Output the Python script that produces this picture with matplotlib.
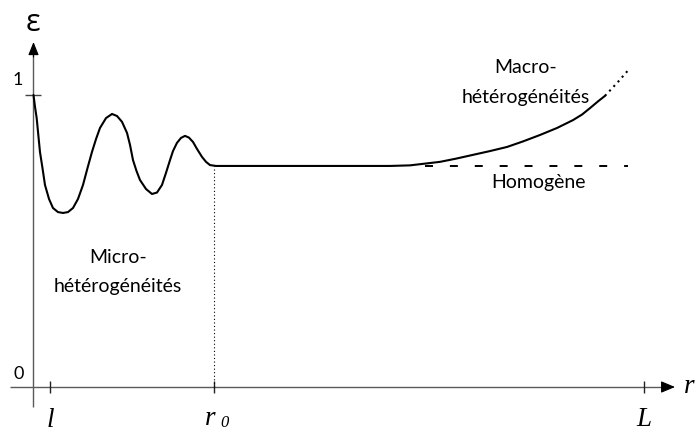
import matplotlib
matplotlib.use("Agg")
import matplotlib.pyplot as plt

# ---- data (r in arbitrary units, L = 10 ; epsilon normalised, 1 at r = 0) ----
r_curve = [0.000, 0.025, 0.052, 0.106, 0.147, 0.188, 0.254, 0.319, 0.401, 0.483,
           0.565, 0.647, 0.729, 0.811, 0.885, 0.958, 1.024, 1.089, 1.188, 1.286,
           1.368, 1.450, 1.532, 1.581, 1.630, 1.687, 1.744, 1.843, 1.941, 2.023,
           2.105, 2.170, 2.236, 2.285, 2.350, 2.416, 2.482, 2.547, 2.613, 2.679,
           2.760, 2.826, 2.891, 2.989, 5.839, 6.167, 6.413, 6.658, 6.921, 7.199,
           7.478, 7.756, 8.018, 8.296, 8.575, 8.837, 8.985, 9.115, 9.246, 9.361]
eps_curve = [1.000, 0.959, 0.921, 0.805, 0.750, 0.692, 0.644, 0.613, 0.599, 0.596,
             0.599, 0.613, 0.644, 0.692, 0.750, 0.805, 0.849, 0.887, 0.921, 0.935,
             0.928, 0.908, 0.870, 0.829, 0.777, 0.740, 0.709, 0.678, 0.661, 0.666,
             0.692, 0.733, 0.777, 0.808, 0.836, 0.853, 0.860, 0.854, 0.839, 0.815,
             0.788, 0.771, 0.760, 0.757, 0.757, 0.759, 0.765, 0.771, 0.782, 0.795,
             0.808, 0.822, 0.841, 0.863, 0.887, 0.914, 0.933, 0.955, 0.978, 0.997]
r_extrap = [9.361, 9.575, 9.771]
eps_extrap = [0.997, 1.045, 1.092]
r_homog = [6.413, 9.737]
eps_homog = [0.757, 0.757]
eps_plateau = 0.757
r0 = 2.957
x_ticks = [0.27, r0, 10.0]
x_tick_labels = ['l', 'r', 'L']
y_ticks = [1.0]

fig = plt.figure(figsize=(6.96, 4.32), dpi=100)
ax = fig.add_axes([0, 0, 1, 1])
ax.set_xlim(-0.5487, 10.852)
ax.set_ylim(-0.1541, 1.3253)
ax.axis('off')

axis_col = '#5a5a5a'
# axes lines
ax.plot([-0.385, 10.35], [0, 0], color=axis_col, lw=1.0, solid_capstyle='butt')
ax.plot([0, 0], [-0.0685, 1.15], color=axis_col, lw=1.0, solid_capstyle='butt')
ax.annotate('', xy=(10.508, 0), xytext=(10.30, 0),
            arrowprops=dict(arrowstyle='-|>,head_length=0.86,head_width=0.36',
                            color='black', lw=0.8, shrinkA=0, shrinkB=0,
                            mutation_scale=10))
ax.annotate('', xy=(0, 1.1815), xytext=(0, 1.13),
            arrowprops=dict(arrowstyle='-|>,head_length=0.8,head_width=0.32',
                            color='black', lw=0.8, shrinkA=0, shrinkB=0,
                            mutation_scale=10))

# ticks
ax.plot(x_ticks, [0] * len(x_ticks), ls='none', marker='|', ms=8.6, mew=1.0,
        color='#222222')
ax.plot([0] * len(y_ticks), y_ticks, ls='none', marker='_', ms=12.2, mew=1.0,
        color='#444444')

# r0 vertical dotted
ax.plot([r0, r0], [0, eps_plateau], color='black', lw=0.8, ls=(0, (1, 2.2)))

# curves
ax.plot(r_curve, eps_curve, color='black', lw=1.5, solid_capstyle='round',
        solid_joinstyle='round')
ax.plot(r_extrap, eps_extrap, color='black', lw=1.5, ls=(0, (1, 2)))
ax.plot(r_homog, eps_homog, color='black', lw=1.4, ls=(0, (4.1, 8.7)))

# labels
sans = ['Lato', 'DejaVu Sans']
serif_it = dict(family='Liberation Serif', style='italic')
ax.text(-0.008, 1.245, 'ε', fontsize=22, family=['Open Sans', 'DejaVu Sans'],
        ha='center', va='center')
ax.text(-0.254, 1.051, '1', fontsize=13, family=sans, ha='center', va='center')
ax.text(-0.2375, 0.0445, '0', fontsize=13, family=sans, ha='center', va='center')

ax.text(8.067, 1.074, 'Macro-', fontsize=14, family=sans, ha='center', va='baseline')
ax.text(8.067, 0.974, 'hétérogénéités', fontsize=14, family=sans, ha='center', va='baseline')
ax.text(8.28, 0.682, 'Homogène', fontsize=14, family=sans, ha='center', va='baseline')
ax.text(1.384, 0.425, 'Micro-', fontsize=14, family=sans, ha='center', va='baseline')
ax.text(1.384, 0.325, 'hétérogénéités', fontsize=14, family=sans, ha='center', va='baseline')

ax.text(0.27, -0.137, x_tick_labels[0], fontsize=19.5, ha='center', va='baseline', **serif_it)
ax.text(2.81, -0.130, x_tick_labels[1], fontsize=19.5, ha='left', va='baseline', **serif_it)
ax.text(3.055, -0.137, '0', fontsize=12, ha='left', va='baseline', **serif_it)
ax.text(10.0, -0.1336, x_tick_labels[2], fontsize=19.5, ha='center', va='baseline', **serif_it)
ax.text(10.66, -0.0205, 'r', fontsize=19.5, ha='left', va='baseline', **serif_it)

fig.savefig('out.png', dpi=100)
